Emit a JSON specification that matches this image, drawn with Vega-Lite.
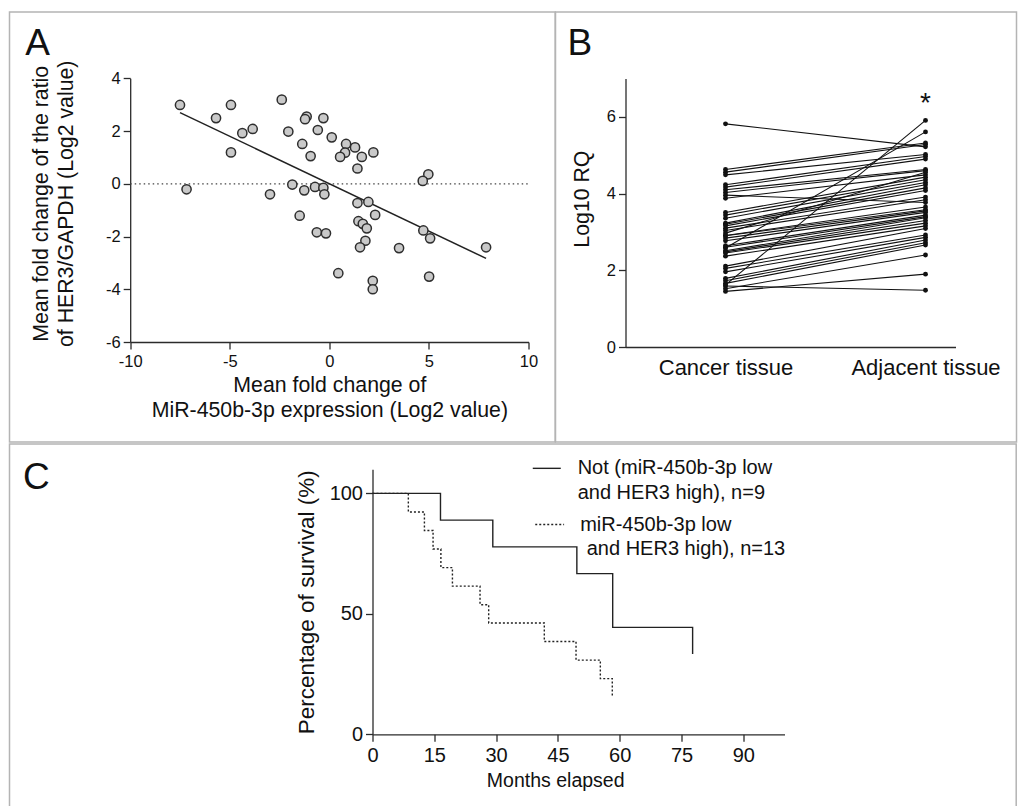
{
  "$schema": "https://vega.github.io/schema/vega-lite/v6.json",
  "padding": {"left": 8.5, "top": 11, "right": 0, "bottom": 0},
  "background": "white",
  "spacing": 0,
  "config": {
    "font": "Liberation Sans",
    "view": {"stroke": "#b4b4b4", "strokeWidth": 1.5},
    "axis": {"grid": false, "domainColor": "#2b2b2b", "tickColor": "#2b2b2b", "domainWidth": 1.3, "tickWidth": 1.3, "labelColor": "#111", "titleColor": "#111", "titleFontWeight": "normal", "labelFlush": false, "labelOverlap": false, "tickSize": 7}
  },
  "datasets": {
    "scatter": [
      {"mir": -7.5, "her3": 2.99}, {"mir": -4.94, "her3": 2.99}, {"mir": -5.69, "her3": 2.49}, {"mir": -2.39, "her3": 3.19},
      {"mir": -3.85, "her3": 2.08}, {"mir": -4.37, "her3": 1.92}, {"mir": -4.94, "her3": 1.19}, {"mir": -2.06, "her3": 1.98},
      {"mir": -1.14, "her3": 2.55}, {"mir": -1.22, "her3": 2.45}, {"mir": -0.3, "her3": 2.49}, {"mir": -0.58, "her3": 2.04},
      {"mir": -1.36, "her3": 1.51}, {"mir": -0.94, "her3": 1.05}, {"mir": 0.12, "her3": 1.76}, {"mir": 0.84, "her3": 1.51},
      {"mir": 1.29, "her3": 1.38}, {"mir": 0.79, "her3": 1.18}, {"mir": 0.54, "her3": 1.02}, {"mir": 1.63, "her3": 1.02},
      {"mir": 2.21, "her3": 1.19}, {"mir": 1.41, "her3": 0.58}, {"mir": 4.97, "her3": 0.36}, {"mir": 4.69, "her3": 0.11},
      {"mir": -7.17, "her3": -0.21}, {"mir": -2.98, "her3": -0.4}, {"mir": -1.86, "her3": -0.03}, {"mir": -1.26, "her3": -0.25},
      {"mir": -0.72, "her3": -0.12}, {"mir": -0.3, "her3": -0.15}, {"mir": -0.25, "her3": -0.4}, {"mir": 1.41, "her3": -0.73},
      {"mir": 1.96, "her3": -0.69}, {"mir": 2.3, "her3": -1.18}, {"mir": -1.49, "her3": -1.21}, {"mir": 1.46, "her3": -1.42},
      {"mir": 1.68, "her3": -1.52}, {"mir": 1.88, "her3": -1.69}, {"mir": 4.72, "her3": -1.77}, {"mir": 5.06, "her3": -2.07},
      {"mir": -0.63, "her3": -1.84}, {"mir": -0.17, "her3": -1.88}, {"mir": 1.81, "her3": -2.16}, {"mir": 1.54, "her3": -2.41},
      {"mir": 3.5, "her3": -2.44}, {"mir": 7.87, "her3": -2.41}, {"mir": 0.45, "her3": -3.39}, {"mir": 2.18, "her3": -3.68},
      {"mir": 2.18, "her3": -4.0}, {"mir": 5.01, "her3": -3.52}
    ],
    "fit": [{"mir": -7.5, "her3": 2.7}, {"mir": 7.87, "her3": -2.83}],
    "pairs": [
      {"p": 1, "t": 0, "v": 5.82}, {"p": 1, "t": 1, "v": 5.22},
      {"p": 2, "t": 0, "v": 1.62}, {"p": 2, "t": 1, "v": 5.91},
      {"p": 3, "t": 0, "v": 2.58}, {"p": 3, "t": 1, "v": 5.61},
      {"p": 4, "t": 0, "v": 4.63}, {"p": 4, "t": 1, "v": 5.32},
      {"p": 5, "t": 0, "v": 4.56}, {"p": 5, "t": 1, "v": 5.28},
      {"p": 6, "t": 0, "v": 4.49}, {"p": 6, "t": 1, "v": 5.02},
      {"p": 7, "t": 0, "v": 4.23}, {"p": 7, "t": 1, "v": 4.97},
      {"p": 8, "t": 0, "v": 4.17}, {"p": 8, "t": 1, "v": 4.9},
      {"p": 9, "t": 0, "v": 4.1}, {"p": 9, "t": 1, "v": 4.63},
      {"p": 10, "t": 0, "v": 4.03}, {"p": 10, "t": 1, "v": 4.6},
      {"p": 11, "t": 0, "v": 3.96}, {"p": 11, "t": 1, "v": 3.77},
      {"p": 12, "t": 0, "v": 3.88}, {"p": 12, "t": 1, "v": 4.49},
      {"p": 13, "t": 0, "v": 3.51}, {"p": 13, "t": 1, "v": 4.43},
      {"p": 14, "t": 0, "v": 3.44}, {"p": 14, "t": 1, "v": 4.36},
      {"p": 15, "t": 0, "v": 3.36}, {"p": 15, "t": 1, "v": 4.29},
      {"p": 16, "t": 0, "v": 3.23}, {"p": 16, "t": 1, "v": 4.23},
      {"p": 17, "t": 0, "v": 3.2}, {"p": 17, "t": 1, "v": 4.15},
      {"p": 18, "t": 0, "v": 3.16}, {"p": 18, "t": 1, "v": 4.08},
      {"p": 19, "t": 0, "v": 3.1}, {"p": 19, "t": 1, "v": 3.91},
      {"p": 20, "t": 0, "v": 3.04}, {"p": 20, "t": 1, "v": 3.84},
      {"p": 21, "t": 0, "v": 2.97}, {"p": 21, "t": 1, "v": 4.56},
      {"p": 22, "t": 0, "v": 2.91}, {"p": 22, "t": 1, "v": 3.65},
      {"p": 23, "t": 0, "v": 2.9}, {"p": 23, "t": 1, "v": 3.58},
      {"p": 24, "t": 0, "v": 2.84}, {"p": 24, "t": 1, "v": 3.55},
      {"p": 25, "t": 0, "v": 2.77}, {"p": 25, "t": 1, "v": 3.51},
      {"p": 26, "t": 0, "v": 2.64}, {"p": 26, "t": 1, "v": 3.44},
      {"p": 27, "t": 0, "v": 2.6}, {"p": 27, "t": 1, "v": 3.4},
      {"p": 28, "t": 0, "v": 2.51}, {"p": 28, "t": 1, "v": 3.37},
      {"p": 29, "t": 0, "v": 2.48}, {"p": 29, "t": 1, "v": 3.3},
      {"p": 30, "t": 0, "v": 2.45}, {"p": 30, "t": 1, "v": 3.23},
      {"p": 31, "t": 0, "v": 2.37}, {"p": 31, "t": 1, "v": 3.16},
      {"p": 32, "t": 0, "v": 2.11}, {"p": 32, "t": 1, "v": 3.09},
      {"p": 33, "t": 0, "v": 2.05}, {"p": 33, "t": 1, "v": 2.92},
      {"p": 34, "t": 0, "v": 1.96}, {"p": 34, "t": 1, "v": 2.86},
      {"p": 35, "t": 0, "v": 1.79}, {"p": 35, "t": 1, "v": 2.79},
      {"p": 36, "t": 0, "v": 1.73}, {"p": 36, "t": 1, "v": 2.72},
      {"p": 37, "t": 0, "v": 1.66}, {"p": 37, "t": 1, "v": 2.66},
      {"p": 38, "t": 0, "v": 1.59}, {"p": 38, "t": 1, "v": 1.48},
      {"p": 39, "t": 0, "v": 1.52}, {"p": 39, "t": 1, "v": 2.4},
      {"p": 40, "t": 0, "v": 1.45}, {"p": 40, "t": 1, "v": 1.9}
    ],
    "km": [
      {"g": "Not", "t": 0, "s": 100}, {"g": "Not", "t": 16.5, "s": 88.9}, {"g": "Not", "t": 29.2, "s": 77.8},
      {"g": "Not", "t": 49.6, "s": 66.7}, {"g": "Not", "t": 58.3, "s": 44.4}, {"g": "Not", "t": 77.7, "s": 33.3},
      {"g": "Low", "t": 0, "s": 100}, {"g": "Low", "t": 8.7, "s": 92.3}, {"g": "Low", "t": 12.6, "s": 84.6},
      {"g": "Low", "t": 14.7, "s": 76.9}, {"g": "Low", "t": 16.6, "s": 69.2}, {"g": "Low", "t": 19.4, "s": 61.5},
      {"g": "Low", "t": 26.1, "s": 53.8}, {"g": "Low", "t": 28.2, "s": 46.2}, {"g": "Low", "t": 41.7, "s": 38.5},
      {"g": "Low", "t": 49.4, "s": 30.8}, {"g": "Low", "t": 55.3, "s": 23.1}, {"g": "Low", "t": 58.2, "s": 15.4}
    ]
  },
  "vconcat": [
    {
      "hconcat": [
        {
          "width": 545.7,
          "height": 430,
          "layer": [
            {
              "data": {"values": [{}]},
              "mark": {"type": "rule", "strokeDash": [1.5, 3], "color": "#444", "strokeWidth": 1.2},
              "encoding": {
                "x": {"datum": -10, "type": "quantitative",
                  "scale": {"domain": [-10, 10], "range": [120.7, 519], "nice": false, "zero": false},
                  "axis": {"orient": "bottom", "offset": -100, "values": [-10, -5, 0, 5, 10], "labelExpr": "'' + datum.value", "title": ["Mean fold change of", "MiR-450b-3p expression (Log2 value)"], "labelFontSize": 16.5, "titleFontSize": 21.3, "labelPadding": 4, "titlePadding": 5, "titleLineHeight": 24.5}},
                "x2": {"datum": 10},
                "y": {"datum": 0, "type": "quantitative",
                  "scale": {"domain": [-6, 4], "range": [330, 66.3], "nice": false, "zero": false},
                  "axis": {"orient": "left", "offset": -120.7, "values": [-6, -4, -2, 0, 2, 4], "labelExpr": "'' + datum.value", "title": ["Mean fold change of the ratio", "of HER3/GAPDH (Log2 value)"], "labelFontSize": 16.5, "titleFontSize": 21.3, "labelPadding": 3, "titlePadding": 29, "titleLineHeight": 25, "titleY": 191.3}}
              }
            },
            {
              "data": {"name": "fit"},
              "mark": {"type": "line", "color": "#222", "strokeWidth": 1.5},
              "encoding": {
                "x": {"field": "mir", "type": "quantitative", "scale": {"domain": [-10, 10], "range": [120.7, 519], "nice": false, "zero": false}},
                "y": {"field": "her3", "type": "quantitative", "scale": {"domain": [-6, 4], "range": [330, 66.3], "nice": false, "zero": false}}
              }
            },
            {
              "data": {"name": "scatter"},
              "mark": {"type": "point", "shape": "circle", "filled": false, "fill": "#c9c9c9", "fillOpacity": 1, "stroke": "#2e2e2e", "strokeWidth": 1.5, "opacity": 1, "size": 85},
              "encoding": {
                "x": {"field": "mir", "type": "quantitative", "scale": {"domain": [-10, 10], "range": [120.7, 519], "nice": false, "zero": false}},
                "y": {"field": "her3", "type": "quantitative", "scale": {"domain": [-6, 4], "range": [330, 66.3], "nice": false, "zero": false}}
              }
            },
            {
              "data": {"values": [{}]},
              "mark": {"type": "text", "text": "A", "fontSize": 37, "baseline": "alphabetic", "align": "left", "color": "#111"},
              "encoding": {
                "x": {"datum": -15.27, "type": "quantitative", "scale": {"domain": [-10, 10], "range": [120.7, 519], "nice": false, "zero": false}},
                "y": {"datum": 4.87, "type": "quantitative", "scale": {"domain": [-6, 4], "range": [330, 66.3], "nice": false, "zero": false}}
              }
            }
          ]
        },
        {
          "width": 461,
          "height": 430,
          "layer": [
            {
              "data": {"name": "pairs"},
              "mark": {"type": "line", "color": "#111", "strokeWidth": 1.1},
              "encoding": {
                "x": {"field": "t", "type": "quantitative",
                  "scale": {"domain": [-0.5, 1.15], "range": [70, 400], "nice": false, "zero": false},
                  "axis": {"orient": "bottom", "offset": -95, "values": [0, 1], "labelExpr": "datum.value == 0 ? 'Cancer tissue' : 'Adjacent tissue'", "title": null, "ticks": false, "labelFontSize": 22, "labelPadding": 10}},
                "y": {"field": "v", "type": "quantitative",
                  "scale": {"domain": [0, 7], "range": [335, 66.6], "nice": false},
                  "axis": {"orient": "left", "offset": -70, "values": [0, 2, 4, 6], "labelExpr": "'' + datum.value", "title": "Log10 RQ", "labelFontSize": 16.5, "titleFontSize": 21.3, "labelPadding": 3, "titlePadding": 14, "titleY": 186.6}},
                "detail": {"field": "p", "type": "nominal"}
              }
            },
            {
              "data": {"name": "pairs"},
              "mark": {"type": "point", "shape": "circle", "filled": true, "color": "#111", "opacity": 1, "size": 24},
              "encoding": {
                "x": {"field": "t", "type": "quantitative", "scale": {"domain": [-0.5, 1.15], "range": [70, 400], "nice": false, "zero": false}},
                "y": {"field": "v", "type": "quantitative", "scale": {"domain": [0, 7], "range": [335, 66.6], "nice": false}}
              }
            },
            {
              "data": {"values": [{}]},
              "mark": {"type": "text", "text": "*", "fontSize": 28, "baseline": "alphabetic", "align": "center", "color": "#111"},
              "encoding": {
                "x": {"datum": 1, "type": "quantitative", "scale": {"domain": [-0.5, 1.15], "range": [70, 400], "nice": false, "zero": false}},
                "y": {"datum": 6.12, "type": "quantitative", "scale": {"domain": [0, 7], "range": [335, 66.6], "nice": false}}
              }
            },
            {
              "data": {"values": [{}]},
              "mark": {"type": "text", "text": "B", "fontSize": 37, "baseline": "alphabetic", "align": "left", "color": "#111"},
              "encoding": {
                "x": {"datum": -0.79, "type": "quantitative", "scale": {"domain": [-0.5, 1.15], "range": [70, 400], "nice": false, "zero": false}},
                "y": {"datum": 7.61, "type": "quantitative", "scale": {"domain": [0, 7], "range": [335, 66.6], "nice": false}}
              }
            }
          ]
        }
      ],
      "spacing": 0,
      "bounds": "flush"
    },
    {
      "width": 1006.7,
      "height": 364,
      "layer": [
        {
          "data": {"name": "km"},
          "mark": {"type": "line", "interpolate": "step-after", "color": "#222", "strokeWidth": 1.4},
          "encoding": {
            "x": {"field": "t", "type": "quantitative",
              "scale": {"domain": [0, 100], "range": [363, 775], "nice": false, "zero": false},
              "axis": {"orient": "bottom", "offset": -73.7, "values": [0, 15, 30, 45, 60, 75, 90], "title": "Months elapsed", "labelFontSize": 20, "titleFontSize": 19.5, "labelPadding": 4, "titlePadding": 6, "titleX": 545.7}},
            "y": {"field": "s", "type": "quantitative",
              "scale": {"domain": [0, 110], "range": [290.3, 25.3], "nice": false, "zero": false},
              "axis": {"orient": "left", "offset": -363, "values": [0, 50, 100], "title": "Percentage of survival (%)", "labelFontSize": 20, "titleFontSize": 22.5, "labelPadding": 3, "titlePadding": 11}},
            "strokeDash": {"field": "g", "type": "nominal", "scale": {"domain": ["Not", "Low"], "range": [[1, 0], [2, 2]]}, "legend": null}
          }
        },
        {
          "data": {"values": [{}]},
          "mark": {"type": "rule", "color": "#222", "strokeWidth": 1.4},
          "encoding": {
            "x": {"datum": 38.9, "type": "quantitative", "scale": {"domain": [0, 100], "range": [363, 775], "nice": false, "zero": false}},
            "x2": {"datum": 45.7},
            "y": {"datum": 110.4, "type": "quantitative", "scale": {"domain": [0, 110], "range": [290.3, 25.3], "nice": false, "zero": false}}
          }
        },
        {
          "data": {"values": [{}]},
          "mark": {"type": "rule", "color": "#222", "strokeWidth": 1.4, "strokeDash": [2, 2]},
          "encoding": {
            "x": {"datum": 39.5, "type": "quantitative", "scale": {"domain": [0, 100], "range": [363, 775], "nice": false, "zero": false}},
            "x2": {"datum": 46.5},
            "y": {"datum": 87.1, "type": "quantitative", "scale": {"domain": [0, 110], "range": [290.3, 25.3], "nice": false, "zero": false}}
          }
        },
        {
          "data": {"values": [{}]},
          "mark": {"type": "text", "text": "Not (miR-450b-3p low", "fontSize": 20, "align": "left", "baseline": "middle", "color": "#111"},
          "encoding": {
            "x": {"datum": 49.8, "type": "quantitative", "scale": {"domain": [0, 100], "range": [363, 775], "nice": false, "zero": false}},
            "y": {"datum": 110.5, "type": "quantitative", "scale": {"domain": [0, 110], "range": [290.3, 25.3], "nice": false, "zero": false}}
          }
        },
        {
          "data": {"values": [{}]},
          "mark": {"type": "text", "text": "and HER3 high), n=9", "fontSize": 20, "align": "left", "baseline": "middle", "color": "#111"},
          "encoding": {
            "x": {"datum": 49.8, "type": "quantitative", "scale": {"domain": [0, 100], "range": [363, 775], "nice": false, "zero": false}},
            "y": {"datum": 100.3, "type": "quantitative", "scale": {"domain": [0, 110], "range": [290.3, 25.3], "nice": false, "zero": false}}
          }
        },
        {
          "data": {"values": [{}]},
          "mark": {"type": "text", "text": "miR-450b-3p low", "fontSize": 20, "align": "left", "baseline": "middle", "color": "#111"},
          "encoding": {
            "x": {"datum": 50.4, "type": "quantitative", "scale": {"domain": [0, 100], "range": [363, 775], "nice": false, "zero": false}},
            "y": {"datum": 87, "type": "quantitative", "scale": {"domain": [0, 110], "range": [290.3, 25.3], "nice": false, "zero": false}}
          }
        },
        {
          "data": {"values": [{}]},
          "mark": {"type": "text", "text": "and HER3 high), n=13", "fontSize": 20, "align": "left", "baseline": "middle", "color": "#111"},
          "encoding": {
            "x": {"datum": 52.0, "type": "quantitative", "scale": {"domain": [0, 100], "range": [363, 775], "nice": false, "zero": false}},
            "y": {"datum": 76.9, "type": "quantitative", "scale": {"domain": [0, 110], "range": [290.3, 25.3], "nice": false, "zero": false}}
          }
        },
        {
          "data": {"values": [{}]},
          "mark": {"type": "text", "text": "C", "fontSize": 37, "baseline": "alphabetic", "align": "left", "color": "#111"},
          "encoding": {
            "x": {"datum": -84.8, "type": "quantitative", "scale": {"domain": [0, 100], "range": [363, 775], "nice": false, "zero": false}},
            "y": {"datum": 101.8, "type": "quantitative", "scale": {"domain": [0, 110], "range": [290.3, 25.3], "nice": false, "zero": false}}
          }
        }
      ]
    }
  ]
}
